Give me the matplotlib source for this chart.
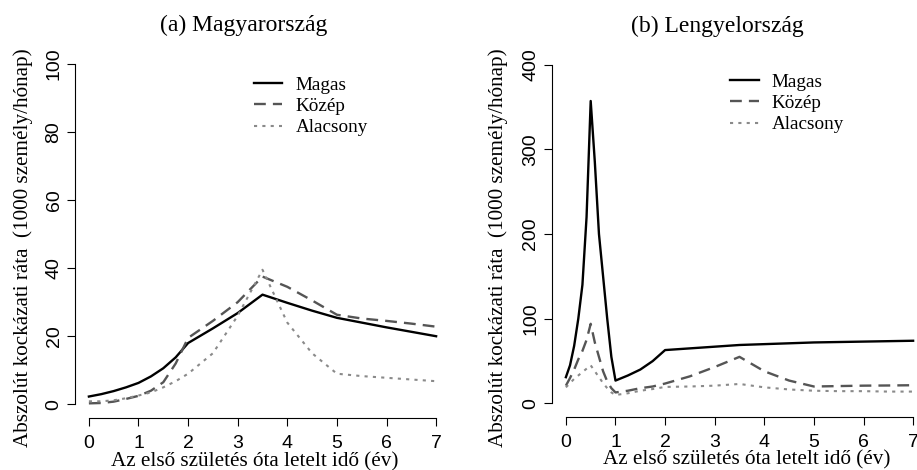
import matplotlib
matplotlib.use("Agg")
import matplotlib.pyplot as plt

# Magyarorszag
hu_x = [0, 0.25, 0.5, 0.75, 1, 1.25, 1.5, 1.75, 2, 2.5, 3, 3.5, 4, 4.5, 5, 5.5, 6, 6.5, 7]
hu_magas = [2.3, 3.0, 3.9, 5.0, 6.3, 8.2, 10.6, 13.8, 18, 22.3, 26.8, 32.2, 29.8, 27.5, 25.4, 24, 22.6, 21.3, 20]
hu_kozep = [0.3, 0.4, 0.8, 1.6, 2.5, 4.0, 6.5, 12, 19.5, 24.5, 30, 37.5, 34.5, 30.5, 26.3, 25.2, 24.5, 23.7, 22.8]
hu_alacsony = [0.9, 0.9, 1.2, 1.8, 2.6, 3.5, 5, 6.8, 9, 15, 26, 39.5, 24, 15, 9, 8.3, 7.8, 7.3, 6.8]

# Lengyelorszag
pl_x = [0, 1/12, 2/12, 3/12, 4/12, 5/12, 6/12, 7/12, 8/12, 9/12, 10/12, 11/12, 1,
        1.25, 1.5, 1.75, 2, 2.5, 3, 3.5, 4, 4.5, 5, 5.5, 6, 6.5, 7]
pl_magas = [31, 45, 68, 100, 140, 220, 357, 285, 200, 150, 100, 55, 27,
            33, 40, 50, 63, 65, 67, 69, 70, 71, 72, 72.5, 73, 73.5, 74]
pl_kozep = [21, 30, 40, 52, 62, 75, 94, 72, 55, 38, 26, 18, 13,
            15, 18, 20, 23.5, 32, 43, 55, 38, 27, 20, 20.5, 21, 21.2, 21.5]
pl_alacsony = [19, 24, 29, 33, 37, 41, 45, 38, 31, 24, 18, 13, 10,
               12, 15, 17, 19.5, 20, 21, 23, 19, 16.5, 15, 14.5, 14.5, 14, 14]

labels = ["Magas", "Közép", "Alacsony"]
titles = ["(a) Magyarország", "(b) Lengyelország"]
xlab = "Az első születés óta letelt idő (év)"
ylab = "Abszolút kockázati ráta  (1000 személy/hónap)"

serif = "Liberation Serif"
sans = "Liberation Sans"

fig = plt.figure(figsize=(9.17, 4.70), dpi=100)
ax1 = fig.add_axes([75/917, 52/470, 375/917, 368/470])
ax2 = fig.add_axes([552/917, 53/470, 375/917, 366/470])

# (axes, x, series..., ymax, yticks, title, title x, legend pos, ylabel x, xlabel x)
panels = [
    (ax1, hu_x, hu_magas, hu_kozep, hu_alacsony, 100, [0, 20, 40, 60, 80, 100],
     titles[0], 0.451, (0.43, 0.975), -0.112, 0.48),
    (ax2, pl_x, pl_magas, pl_kozep, pl_alacsony, 400, [0, 100, 200, 300, 400],
     titles[1], 0.44, (0.428, 0.986), -0.118, 0.52),
]

for ax, x, m, k, a, ymax, yt, title, tx, lpos, ylx, xlx in panels:
    ax.plot(x, m, color="black", lw=1.7, label=labels[0])
    ax.plot(x, k, color="#555555", lw=1.7, ls=(0, (5, 3)), label=labels[1])
    ax.plot(x, a, color="#8a8a8a", lw=1.5, ls=(0, (1.5, 2.5)), label=labels[2])
    ax.set_xlim(-0.28, 7.28)
    pad = ymax * 0.04
    ax.set_ylim(-pad, ymax + pad)
    for s in ["top", "right"]:
        ax.spines[s].set_visible(False)
    ax.spines["left"].set_bounds(0, ymax)
    ax.spines["bottom"].set_bounds(0, 7)
    ax.spines["left"].set_linewidth(0.8)
    ax.spines["bottom"].set_linewidth(0.8)
    ax.set_xticks(range(8))
    ax.set_yticks(yt)
    ax.tick_params(length=6, width=0.8, labelsize=14)
    ax.tick_params(axis="x", pad=6)
    ax.tick_params(axis="y", pad=3)
    for t in ax.get_xticklabels() + ax.get_yticklabels():
        t.set_fontfamily(sans)
    for t in ax.get_yticklabels():
        t.set_rotation(90)
        t.set_va("center")
    ttl = ax.set_title(title, fontfamily=serif, fontsize=17, pad=14)
    ttl.set_x(tx)
    ax.set_xlabel(xlab, fontfamily=serif, fontsize=15.2)
    ax.xaxis.set_label_coords(xlx, -0.092)
    ax.set_ylabel(ylab, fontfamily=serif, fontsize=15.2)
    ax.yaxis.set_label_coords(ylx, 0.462)
    ax.legend(loc="upper left", bbox_to_anchor=lpos, frameon=False,
              prop={"family": serif, "size": 13.8}, handlelength=1.5,
              handletextpad=0.7, labelspacing=0.2)

fig.savefig("out.png", dpi=100)
